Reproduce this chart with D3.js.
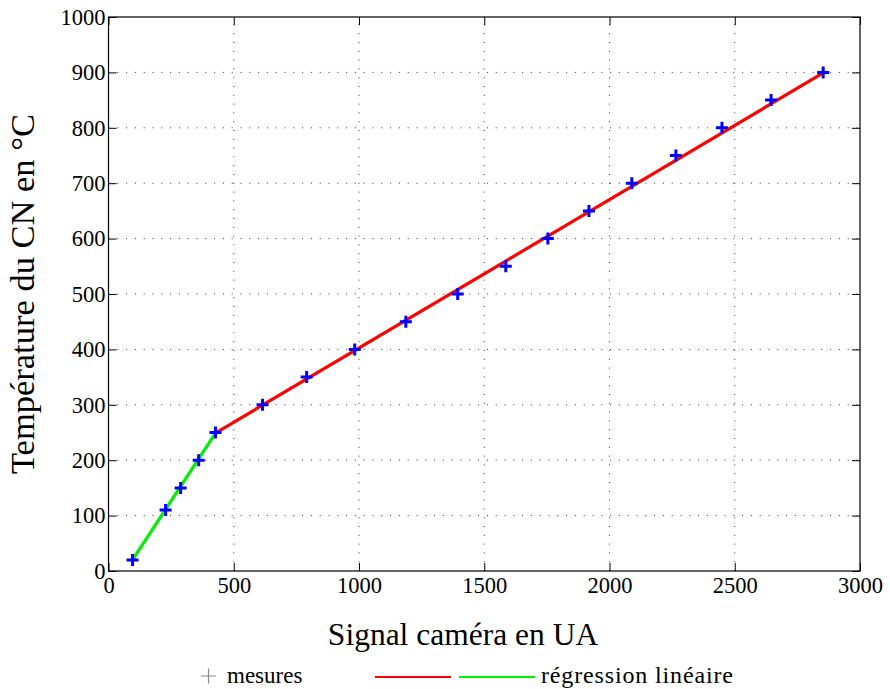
<!DOCTYPE html>
<html><head><meta charset="utf-8">
<script src="https://cdn.jsdelivr.net/npm/d3@7"></script>
<style>body{margin:0;background:#fff}svg{display:block}</style>
</head><body><svg id="c" width="890" height="689"></svg>
<script>
const signal = [96, 228, 288, 360, 427, 615, 791, 983, 1187, 1394, 1586, 1754, 1918, 2089, 2265, 2449, 2645, 2853];
const temperature = [20, 110, 150, 200, 250, 300, 350, 400, 450, 500, 550, 600, 650, 700, 750, 800, 850, 900];
const fitLowX = [96, 427];
const fitLowY = [20, 249];
const fitHighX = [427, 2853];
const fitHighY = [249, 899];
const xTicks = [0, 500, 1000, 1500, 2000, 2500, 3000];
const yTicks = [0, 100, 200, 300, 400, 500, 600, 700, 800, 900, 1000];
const xLabel = "Signal caméra en UA";
const yLabel = "Température du CN en °C";
const legendLabels = ["mesures", "régression linéaire"];

const FONT = "'Liberation Serif'";
const svg = d3.select("#c");
const L = 108.5, R = 860, T = 17, B = 571;
const x = d3.scaleLinear().domain([0, 3000]).range([L, R]);
const y = d3.scaleLinear().domain([0, 1000]).range([B, T]);

// grid
const g = svg.append("g");
g.selectAll(".gx").data(xTicks.slice(1, -1)).enter().append("line")
  .attr("x1", d => x(d)).attr("x2", d => x(d)).attr("y1", B).attr("y2", T)
  .attr("stroke", "#333").attr("stroke-width", 1).attr("stroke-dasharray", "1,7.8");
g.selectAll(".gy").data(yTicks.slice(1, -1)).enter().append("line")
  .attr("y1", d => y(d)).attr("y2", d => y(d)).attr("x1", L).attr("x2", R)
  .attr("stroke", "#333").attr("stroke-width", 1).attr("stroke-dasharray", "1,7.8");

// axes (ticks inward)
const fs = 22.5;
const ax = svg.append("g").attr("transform", `translate(0,${B})`)
  .call(d3.axisBottom(x).tickValues(xTicks).tickSize(-8).tickPadding(10).tickFormat(d3.format("d")));
const axT = svg.append("g").attr("transform", `translate(0,${T})`)
  .call(d3.axisTop(x).tickValues(xTicks).tickSize(-8).tickFormat(""));
const ay = svg.append("g").attr("transform", `translate(${L},0)`)
  .call(d3.axisLeft(y).tickValues(yTicks).tickSize(-8).tickPadding(3).tickFormat(d3.format("d")));
const ayR = svg.append("g").attr("transform", `translate(${R},0)`)
  .call(d3.axisRight(y).tickValues(yTicks).tickSize(-8).tickFormat(""));
[ax, axT, ay, ayR].forEach(a => {
  a.attr("font-family", null).attr("font-size", null);
  a.select(".domain").remove();
  a.selectAll("line").attr("stroke", "#000").attr("stroke-width", 1);
  a.selectAll("text").style("font-size", fs + "px").style("font-family", FONT).attr("fill", "#000");
});
ax.selectAll("text").attr("dy", "0.55em");
svg.append("rect").attr("x", L).attr("y", T).attr("width", R - L).attr("height", B - T)
  .attr("fill", "none").attr("stroke", "#000").attr("stroke-width", 1.2);

// fit lines
const line = d3.line().x(d => x(d[0])).y(d => y(d[1]));
svg.append("path").datum(fitHighX.map((v, i) => [v, fitHighY[i]])).attr("d", line)
  .attr("stroke", "#ff0000").attr("stroke-width", 3.2).attr("fill", "none");
svg.append("path").datum(fitLowX.map((v, i) => [v, fitLowY[i]])).attr("d", line)
  .attr("stroke", "#00ee00").attr("stroke-width", 3.2).attr("fill", "none");

// markers
const pts = signal.map((v, i) => [v, temperature[i]]);
const m = 6;
svg.append("g").selectAll("path").data(pts).enter().append("path")
  .attr("d", d => `M${x(d[0]) - m},${y(d[1])}H${x(d[0]) + m}M${x(d[0])},${y(d[1]) - m}V${y(d[1]) + m}`)
  .attr("stroke", "#0000ff").attr("stroke-width", 3).attr("fill", "none");

// axis titles
svg.append("text").attr("x", 463).attr("y", 645).attr("text-anchor", "middle")
  .style("font-family", FONT).style("font-size", "31.5px").text(xLabel);
svg.append("text").attr("transform", "translate(34,294) rotate(-90)").attr("text-anchor", "middle")
  .style("font-family", FONT).style("font-size", "34.5px").text(yLabel);

// legend
const ly = 676;
svg.append("path").attr("d", `M${201},${ly}H${216}M${208.5},${ly - 7.5}V${ly + 7.5}`)
  .attr("stroke", "#888").attr("stroke-width", 1.2);
svg.append("text").attr("x", 227).attr("y", ly + 7).style("font-family", FONT).style("font-size", "23px").text(legendLabels[0]);
svg.append("line").attr("x1", 375).attr("x2", 451).attr("y1", ly + 1).attr("y2", ly + 1)
  .attr("stroke", "#ff0000").attr("stroke-width", 2.2);
svg.append("line").attr("x1", 459).attr("x2", 535).attr("y1", ly + 1).attr("y2", ly + 1)
  .attr("stroke", "#00ee00").attr("stroke-width", 2.2);
svg.append("text").attr("x", 541).attr("y", ly + 7).style("font-family", FONT).style("font-size", "24px")
  .attr("textLength", 192).attr("lengthAdjust", "spacing").text(legendLabels[1]);
</script></body></html>
